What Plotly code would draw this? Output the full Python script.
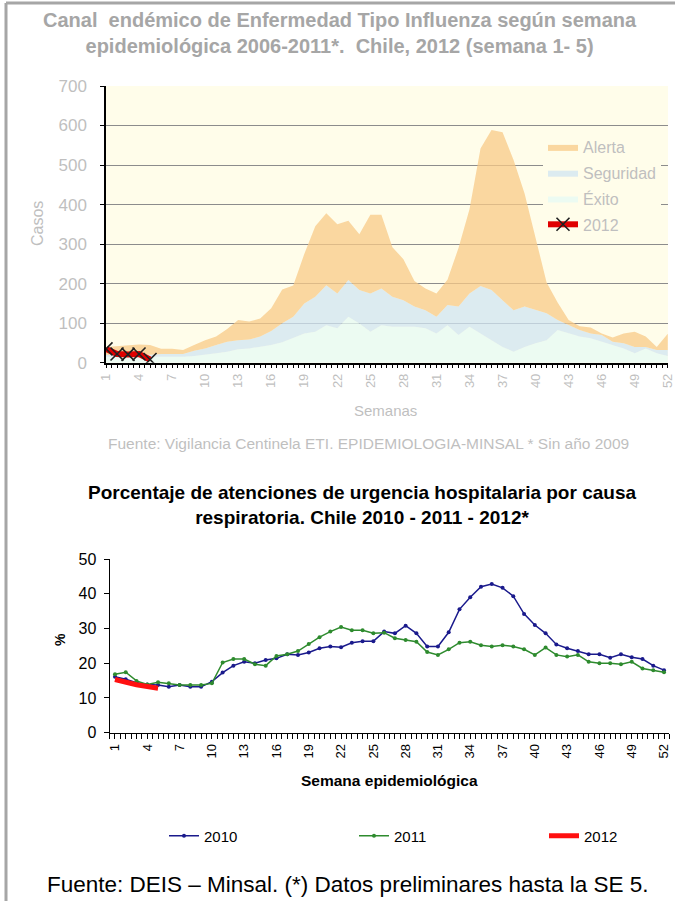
import plotly.graph_objects as go

# ---------------- data ----------------
weeks = list(range(1, 53))
alerta = [40, 42, 45, 46, 45, 35, 35, 32, 45, 57, 66, 85, 108, 104, 112, 138, 185, 195, 275, 345,
          378, 350, 359, 325, 374, 374, 292, 262, 207, 188, 175, 210, 290, 388, 542, 589, 583, 513, 428, 319,
          203, 152, 108, 92, 89, 74, 64, 74, 78, 66, 40, 73]
seguridad = [20, 20, 20, 20, 20, 22, 22, 22, 30, 36, 45, 53, 57, 59, 66, 80, 100, 116, 150, 167,
             196, 175, 209, 184, 175, 188, 167, 158, 142, 133, 116, 146, 142, 175, 194, 184, 158, 133, 142, 133,
             125, 108, 95, 83, 74, 70, 53, 49, 40, 40, 32, 32]
exito = [15, 15, 15, 15, 15, 15, 15, 15, 17, 20, 24, 28, 34, 36, 40, 45, 52, 62, 74, 78,
         95, 87, 116, 99, 78, 95, 91, 91, 91, 87, 74, 95, 70, 91, 74, 57, 40, 28, 40, 49,
         57, 83, 74, 66, 62, 53, 45, 36, 24, 36, 24, 17]
weeks_2012 = [1, 2, 3, 4, 5]
casos_2012 = [35, 22, 21, 22, 8]

pct_2010 = [16.1, 15.4, 14.4, 13.9, 13.7, 13.2, 13.7, 13.2, 13.2, 14.7, 17.3, 19.3, 20.4, 20.0, 20.9, 21.4,
            22.6, 22.4, 23.1, 24.3, 24.8, 24.6, 25.9, 26.3, 26.3, 29.1, 28.6, 30.8, 28.6, 24.8, 24.8, 28.9,
            35.5, 39.0, 42.0, 42.8, 41.7, 39.3, 34.2, 31.0, 28.6, 25.4, 24.3, 23.5, 22.6, 22.6, 21.6, 22.6,
            21.7, 21.2, 19.3, 18.0]
pct_2011 = [16.8, 17.4, 14.9, 13.9, 14.5, 14.2, 13.7, 13.7, 13.7, 14.2, 20.2, 21.2, 21.2, 19.7, 19.3, 22.1,
            22.6, 23.5, 25.5, 27.5, 29.1, 30.4, 29.5, 29.5, 28.6, 28.8, 27.2, 26.7, 26.2, 23.2, 22.4, 24.0,
            25.9, 26.2, 25.2, 24.8, 25.2, 24.8, 24.0, 22.4, 24.5, 22.4, 21.9, 22.4, 20.4, 20.0, 20.0, 19.7,
            20.4, 18.5, 18.0, 17.4]
pct_2012 = [15.3, 14.5, 13.8, 13.3, 12.8]

label_weeks = list(range(1, 53, 3))

# ---------------- helpers ----------------
W, H = 675, 901
def px(x):
    return x / W
def py(y):
    return 1 - y / H

def half_ticks(lo, hi):
    vals, texts = [], []
    v = lo
    while v <= hi + 1e-9:
        vals.append(v)
        texts.append(str(int(v)) if (abs(v - round(v)) < 1e-9 and int(round(v)) in label_weeks) else "")
        v += 0.5
    return vals, texts

FONT = "Liberation Sans, Arial, sans-serif"
GRAY = "#BFBFBF"

fig = go.Figure()

# ---------- top chart ----------
fig.add_trace(go.Scatter(x=weeks, y=exito, name="Éxito", mode="lines", line=dict(width=0),
                         fill="tozeroy", fillcolor="rgba(230,249,244,0.75)", legendrank=3,
                         legendgroup="e", legend="legend", xaxis="x", yaxis="y", hoverinfo="skip"))
fig.add_trace(go.Scatter(x=weeks, y=seguridad, name="Seguridad", mode="lines", line=dict(width=0),
                         fill="tonexty", fillcolor="rgba(208,228,242,0.75)", legendrank=2,
                         legendgroup="s", legend="legend", xaxis="x", yaxis="y", hoverinfo="skip"))
fig.add_trace(go.Scatter(x=weeks, y=alerta, name="Alerta", mode="lines", line=dict(width=0),
                         fill="tonexty", fillcolor="rgba(248,202,135,0.75)", legendrank=1,
                         legendgroup="a", legend="legend", xaxis="x", yaxis="y", hoverinfo="skip"))
fig.add_trace(go.Scatter(x=weeks_2012, y=casos_2012, name="2012", mode="lines+markers",
                         line=dict(color="#E00000", width=6),
                         marker=dict(symbol="x-thin", size=13, line=dict(color="#202020", width=1.6)),
                         legendrank=4, legendgroup="r", legend="legend", xaxis="x", yaxis="y"))

# ---------- bottom chart ----------
fig.add_trace(go.Scatter(x=weeks, y=pct_2010, name="2010", mode="lines+markers",
                         line=dict(color="#1A1A8C", width=1.5), marker=dict(size=4, color="#1A1A8C"),
                         legend="legend2", xaxis="x2", yaxis="y2"))
fig.add_trace(go.Scatter(x=weeks, y=pct_2011, name="2011", mode="lines+markers",
                         line=dict(color="#2E8B2E", width=1.5), marker=dict(size=4, color="#2E8B2E"),
                         legend="legend2", xaxis="x2", yaxis="y2"))
fig.add_trace(go.Scatter(x=weeks_2012, y=pct_2012, name="2012", mode="lines",
                         line=dict(color="#FF1010", width=5),
                         legend="legend2", xaxis="x2", yaxis="y2"))

tv1, tt1 = half_ticks(1, 52)
tv2, tt2 = half_ticks(0.5, 52.5)

fig.update_layout(
    template="none",
    width=W, height=H, margin=dict(l=0, r=0, t=0, b=0, pad=0, autoexpand=False),
    paper_bgcolor="white", plot_bgcolor="rgba(0,0,0,0)",
    font=dict(family=FONT),
    xaxis=dict(domain=[px(106), px(668)], range=[1, 52.02], tickmode="array", tickvals=tv1, ticktext=tt1,
               tickangle=-90, ticks="outside", ticklen=4, tickcolor="black", tickwidth=1,
               showline=True, linecolor="black", linewidth=1.5, showgrid=False, zeroline=False,
               tickfont=dict(size=13, color=GRAY), ticklabeloverflow="allow",
               anchor="y", fixedrange=True, automargin=False),
    yaxis=dict(domain=[py(362.7), py(86)], range=[0, 700], dtick=100, tick0=0,
               showgrid=True, gridcolor="#8C8C8C", gridwidth=1, zeroline=False,
               showline=True, linecolor="black", linewidth=1.5, ticks="outside", ticklen=4,
               tickcolor="black", tickfont=dict(size=17, color=GRAY), ticklabelstandoff=10,
               anchor="x", fixedrange=True, automargin=False),
    xaxis2=dict(domain=[px(109.6), px(669.4)], range=[0.5, 52.5], tickmode="array", tickvals=tv2,
                ticktext=tt2, tickangle=-90, ticks="outside", ticklen=5, tickcolor="black", tickwidth=1,
                showline=True, linecolor="black", linewidth=1.2, showgrid=False, zeroline=False,
                tickfont=dict(size=13, color="black"), ticklabeloverflow="allow",
                anchor="y2", fixedrange=True, automargin=False),
    yaxis2=dict(domain=[py(732.7), py(559)], range=[0, 50], dtick=10, tick0=0, showgrid=False,
                zeroline=False, showline=True, linecolor="black", linewidth=1.2, ticks="outside",
                ticklen=5, tickcolor="black", tickwidth=1, tickfont=dict(size=16, color="black"),
                ticklabelstandoff=4, anchor="x2", fixedrange=True, automargin=False),
    legend=dict(x=px(543), y=py(130), xanchor="left", yanchor="top", bgcolor="#FFFDEA",
                font=dict(size=16, color=GRAY), tracegroupgap=2, itemclick=False,
                itemdoubleclick=False, borderwidth=0),
    legend2=dict(orientation="h", x=px(164), y=py(836), xanchor="left", yanchor="middle",
                 font=dict(size=15, color="black"), entrywidth=145,
                 entrywidthmode="pixels", bgcolor="rgba(0,0,0,0)", borderwidth=0),
    showlegend=True,
)

# yellow background of the top plot area
fig.add_shape(type="rect", xref="paper", yref="paper", x0=px(106), x1=px(668), y0=py(362.7), y1=py(86),
              fillcolor="#FFFDEA", line=dict(width=0), layer="below")
# frame lines
fig.add_shape(type="line", xref="paper", yref="paper", x0=px(6), x1=px(6), y0=0, y1=py(3),
              line=dict(color="#A6A6A6", width=3))
fig.add_shape(type="line", xref="paper", yref="paper", x0=px(6), x1=1, y0=py(3), y1=py(3),
              line=dict(color="#A6A6A6", width=3))

ann = [
    dict(text="<b>Canal  endémico de Enfermedad Tipo Influenza según semana<br>epidemiológica 2006-2011*.  Chile, 2012 (semana 1- 5)</b>",
         x=px(340), y=py(33), font=dict(size=20, color="#A6A6A6")),
    dict(text="Casos", x=px(38), y=py(224), textangle=-90, font=dict(size=16, color=GRAY)),
    dict(text="Semanas", x=px(385), y=py(411), font=dict(size=15, color=GRAY)),
    dict(text="Fuente: Vigilancia Centinela ETI. EPIDEMIOLOGIA-MINSAL * Sin año 2009",
         x=px(368), y=py(443), font=dict(size=15.5, color=GRAY)),
    dict(text="<b>Porcentaje de atenciones de urgencia hospitalaria por causa<br>respiratoria. Chile 2010 - 2011 - 2012*</b>",
         x=px(362), y=py(505), font=dict(size=19, color="black")),
    dict(text="<b>%</b>", x=px(60), y=py(640), textangle=-90, font=dict(size=14, color="black")),
    dict(text="<b>Semana epidemiológica</b>", x=px(389), y=py(780), font=dict(size=15.5, color="black")),
    dict(text="Fuente: DEIS – Minsal. (*) Datos preliminares hasta la SE 5.",
         x=px(348), y=py(884), font=dict(size=22.5, color="black")),
]
for a in ann:
    fig.add_annotation(xref="paper", yref="paper", showarrow=False, xanchor="center", yanchor="middle", **a)

fig.write_html("out.html", config={"displayModeBar": False},
               post_script="document.body.style.margin='0px';document.body.style.padding='0px';")
